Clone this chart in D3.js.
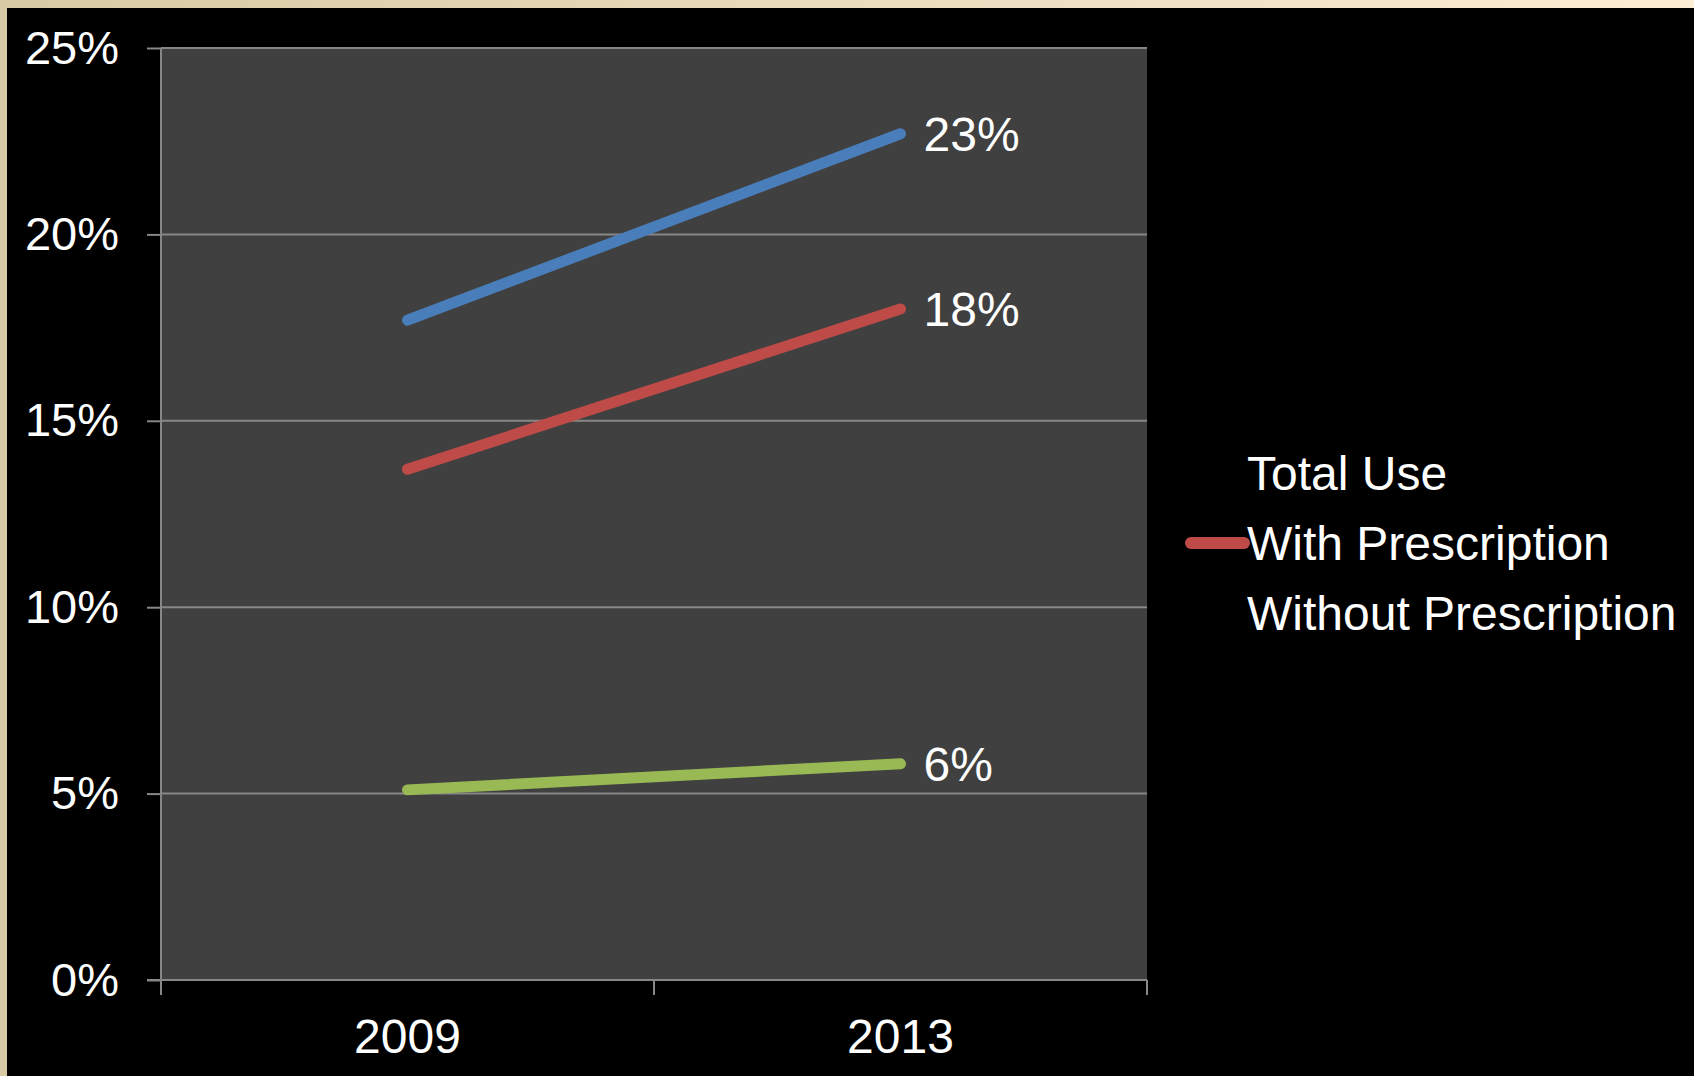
<!DOCTYPE html>
<html>
<head>
<meta charset="utf-8">
<script src="https://cdn.jsdelivr.net/npm/d3@7"></script>
<style>
  html, body { margin: 0; padding: 0; background: #000; }
  svg { display: block; }
  text { font-family: "Liberation Sans", Arial, sans-serif; fill: #fff; }
</style>
</head>
<body>
<svg id="chart" width="1694" height="1076"></svg>
<script>
// Survey years on the x axis
const years = ["2009", "2013"];

// Share of respondents (%) per year for each series
const totalUse = [17.7, 22.7];
const withPrescription = [13.7, 18.0];
const withoutPrescription = [5.1, 5.8];

const seriesNames = ["Total Use", "With Prescription", "Without Prescription"];
const seriesColors = ["#4a7ebb", "#be4b48", "#98b954"];
// only the middle legend entry carries a line swatch
const legendSwatch = [false, true, false];

const yTicks = [0, 5, 10, 15, 20, 25];

const series = [totalUse, withPrescription, withoutPrescription].map((vals, i) => ({
  name: seriesNames[i],
  color: seriesColors[i],
  swatch: legendSwatch[i],
  values: vals.map((v, j) => ({ year: years[j], value: v }))
}));

const W = 1694, H = 1076;
const plot = { left: 161, right: 1147, top: 48, bottom: 980 };

const svg = d3.select("#chart");

// frame: beige band along the top and left edges
const grad = svg.append("defs").append("linearGradient")
  .attr("id", "frameGrad").attr("x1", "0%").attr("x2", "100%");
grad.append("stop").attr("offset", "0%").attr("stop-color", "#d7caa5");
grad.append("stop").attr("offset", "100%").attr("stop-color", "#fcedd4");
svg.append("rect").attr("width", W).attr("height", H).attr("fill", "#000");
svg.append("rect").attr("width", W).attr("height", 8).attr("fill", "url(#frameGrad)");
svg.append("rect").attr("width", 7).attr("height", H).attr("fill", "#d7caa5");

const x = d3.scaleBand().domain(years).range([plot.left, plot.right]);
const y = d3.scaleLinear().domain([0, 25]).range([plot.bottom, plot.top]);

// plot area background
svg.append("rect")
  .attr("x", plot.left).attr("y", plot.top)
  .attr("width", plot.right - plot.left).attr("height", plot.bottom - plot.top)
  .attr("fill", "#404040");

// horizontal gridlines
svg.append("g")
  .selectAll("line")
  .data(yTicks.filter(t => t > 0))
  .join("line")
  .attr("x1", plot.left).attr("x2", plot.right)
  .attr("y1", d => y(d)).attr("y2", d => y(d))
  .attr("stroke", "#878787").attr("stroke-width", 2);

// y axis
const yAxis = svg.append("g")
  .attr("transform", `translate(${plot.left},0)`)
  .call(d3.axisLeft(y).tickValues(yTicks).tickSize(14).tickPadding(28)
    .tickFormat(d => d + "%"));
yAxis.select(".domain").attr("stroke", "#878787").attr("stroke-width", 2)
  .attr("d", `M0,${plot.top}V${plot.bottom + 15}`);
yAxis.selectAll(".tick line").attr("stroke", "#878787").attr("stroke-width", 2);
yAxis.selectAll(".tick text").style("font-size", "47px").attr("fill", "#fff");

// x axis: ticks sit on band boundaries, labels at band centres
const xAxisG = svg.append("g").attr("transform", `translate(0,${plot.bottom})`);
xAxisG.append("line")
  .attr("x1", plot.left - 14).attr("x2", plot.right)
  .attr("stroke", "#878787").attr("stroke-width", 2);
const bounds = years.map(yr => x(yr)).concat([x(years[years.length - 1]) + x.bandwidth()]);
xAxisG.selectAll("line.tk")
  .data(bounds)
  .join("line").attr("class", "tk")
  .attr("x1", d => d).attr("x2", d => d)
  .attr("y1", 0).attr("y2", 15)
  .attr("stroke", "#878787").attr("stroke-width", 2);
xAxisG.selectAll("text")
  .data(years)
  .join("text")
  .attr("x", d => x(d) + x.bandwidth() / 2)
  .attr("y", 73)
  .attr("text-anchor", "middle")
  .style("font-size", "48px")
  .text(d => d);

// series lines
const line = d3.line()
  .x(d => x(d.year) + x.bandwidth() / 2)
  .y(d => y(d.value));

svg.append("g")
  .selectAll("path")
  .data(series)
  .join("path")
  .attr("d", d => line(d.values))
  .attr("fill", "none")
  .attr("stroke", d => d.color)
  .attr("stroke-width", 11)
  .attr("stroke-linecap", "round");

// end-of-line value labels
svg.append("g")
  .selectAll("text")
  .data(series)
  .join("text")
  .attr("x", d => x(years[years.length - 1]) + x.bandwidth() / 2 + 23)
  .attr("y", d => y(d.values[d.values.length - 1].value))
  .attr("dy", "0.35em")
  .style("font-size", "48px")
  .text(d => Math.round(d.values[d.values.length - 1].value) + "%");

// legend
const legend = svg.append("g").attr("transform", "translate(1186,473)");
const item = legend.selectAll("g")
  .data(series)
  .join("g")
  .attr("transform", (d, i) => `translate(0,${i * 70})`);
item.filter(d => d.swatch).append("line")
  .attr("x1", 5).attr("x2", 58)
  .attr("stroke", d => d.color)
  .attr("stroke-width", 12)
  .attr("stroke-linecap", "round");
item.append("text")
  .attr("x", 61)
  .attr("dy", "0.35em")
  .style("font-size", "48px")
  .text(d => d.name);
</script>
</body>
</html>
